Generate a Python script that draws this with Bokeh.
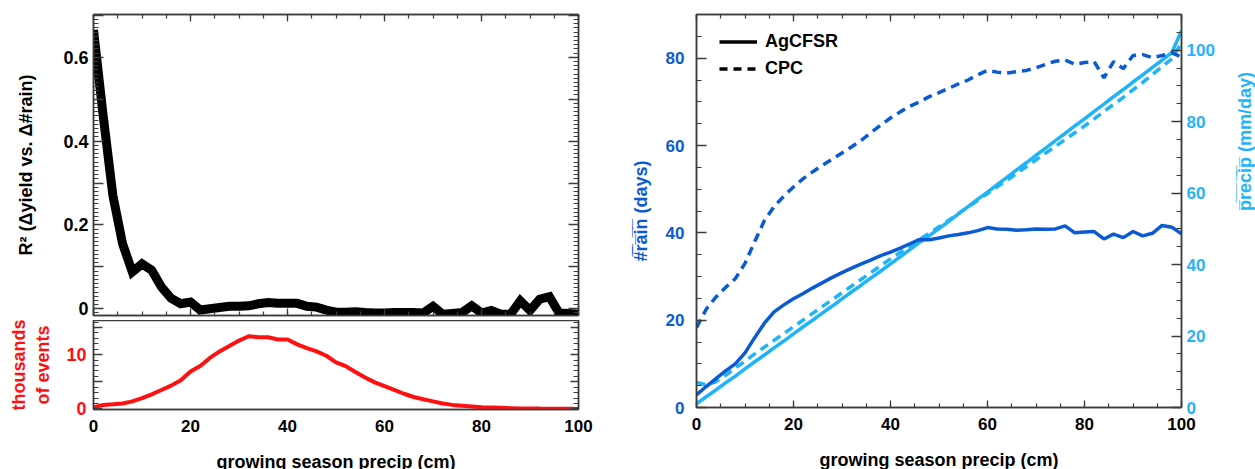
import math
from bokeh.plotting import figure
from bokeh.models import (Range1d, LinearAxis, SingleIntervalTicker, FixedTicker,
                          CustomJSTickFormatter, Legend, LegendItem)
from bokeh.layouts import row, column
from bokeh.embed import file_html
from bokeh.resources import INLINE

# ---------------- data ----------------
precip_cm = [0, 2, 4, 6, 8, 10, 12, 14, 16, 18, 20, 22, 24, 26, 28, 30, 32, 34, 36, 38,
             40, 42, 44, 46, 48, 50, 52, 54, 56, 58, 60, 62, 64, 66, 68, 70, 72, 74, 76, 78,
             80, 82, 84, 86, 88, 90, 92, 94, 96, 98, 100]

r2_yield_rain = [0.665, 0.46, 0.27, 0.155, 0.088, 0.107, 0.092, 0.052, 0.025, 0.012,
                 0.016, -0.003, 0.0, 0.003, 0.006, 0.006, 0.007, 0.012, 0.015, 0.013,
                 0.013, 0.013, 0.006, 0.004, -0.003, -0.008, -0.008, -0.007, -0.009, -0.01,
                 -0.01, -0.009, -0.009, -0.009, -0.01, 0.006, -0.013, -0.011, -0.009, 0.007,
                 -0.01, -0.004, -0.013, -0.013, 0.019, -0.004, 0.023, 0.029, -0.01, -0.011,
                 -0.013]

events_thousands = [0.3, 0.75, 0.85, 1.0, 1.4, 2.0, 2.7, 3.5, 4.3, 5.3,
                    6.9, 7.9, 9.4, 10.6, 11.6, 12.6, 13.4, 13.2, 13.2, 12.8,
                    12.8, 11.9, 11.2, 10.6, 9.8, 8.6, 7.9, 6.8, 5.8, 4.9,
                    4.2, 3.5, 2.8, 2.2, 1.8, 1.4, 1.0, 0.75, 0.6, 0.45,
                    0.3, 0.25, 0.2, 0.15, 0.1, 0.1, 0.07, 0.05, 0.05, 0.03,
                    0.0]

rain_days_agcfsr = [2.9, 4.8, 6.6, 8.4, 10.0, 12.5, 16.0, 19.3, 21.9, 23.5,
                    24.9, 26.1, 27.4, 28.6, 29.8, 30.9, 31.9, 32.9, 33.8, 34.8,
                    35.6, 36.5, 37.5, 38.5, 38.4, 38.8, 39.3, 39.6, 40.0, 40.5,
                    41.2, 40.9, 40.8, 40.6, 40.7, 40.9, 40.8, 40.9, 41.6, 40.0,
                    40.2, 40.3, 38.6, 39.7, 38.9, 40.3, 39.3, 39.9, 41.7, 41.3,
                    39.8]

rain_days_cpc = [18.3, 22.5, 25.3, 27.5, 29.5, 33.0, 38.0, 42.8, 46.0, 48.4,
                 50.5, 52.4, 54.0, 55.5, 56.9, 58.3, 59.7, 61.2, 63.0, 64.7,
                 66.3, 67.7, 69.0, 70.0, 71.2, 72.1, 73.1, 74.1, 75.0, 76.2,
                 77.2, 76.8, 76.6, 76.9, 77.2, 77.8, 78.6, 79.3, 79.6, 78.6,
                 79.0, 79.2, 75.5, 79.2, 77.6, 80.6, 80.8, 80.1, 80.6, 81.2,
                 80.3]

precip_agcfsr = [1.0, 3.0, 4.9, 6.9, 8.8, 10.8, 12.8, 14.7, 16.7, 18.6,
                 20.6, 22.6, 24.5, 26.5, 28.4, 30.4, 32.4, 34.3, 36.3, 38.2,
                 40.2, 42.2, 44.2, 46.2, 48.1, 50.1, 52.1, 54.2, 56.2, 58.3,
                 60.3, 62.4, 64.4, 66.5, 68.5, 70.6, 72.6, 74.7, 76.7, 78.8,
                 80.8, 82.9, 84.9, 87.0, 89.0, 91.1, 93.1, 95.2, 97.2, 99.3,
                 105.5]

precip_cpc = [7.0, 6.4, 7.2, 9.0, 11.0, 13.0, 15.0, 16.9, 18.8, 20.7,
              22.6, 24.5, 26.4, 28.3, 30.2, 32.1, 34.0, 35.9, 37.8, 39.7,
              41.6, 43.4, 45.2, 47.0, 48.8, 50.6, 52.4, 54.3, 56.1, 58.0,
              59.9, 61.8, 63.6, 65.5, 67.4, 69.3, 71.2, 73.1, 75.0, 76.9,
              78.8, 80.8, 82.9, 84.8, 86.8, 88.9, 91.0, 93.2, 95.4, 97.6,
              102.0]

series_names = ["AgCFSR", "CPC"]
x_title = "growing season precip (cm)"

# ---------------- style ----------------
FONT = "Liberation Sans"
AXC = "#3c3c3c"
DARK = "#0a5bd3"
LIGHT = "#1fb4fa"
RED = "#ff1010"


def style_axis(ax, color="black", size="17px", standoff=8):
    ax.major_label_text_font = FONT
    ax.major_label_text_font_style = "bold"
    ax.major_label_text_font_size = size
    ax.major_label_text_color = color
    ax.major_label_standoff = standoff
    ax.axis_label_text_font = FONT
    ax.axis_label_text_font_style = "bold"
    ax.axis_label_text_font_size = "18px"
    ax.axis_label_text_color = color
    ax.axis_line_color = AXC
    ax.axis_line_width = 1.5
    ax.major_tick_in = 10
    ax.major_tick_out = 0
    ax.minor_tick_in = 5
    ax.minor_tick_out = 0
    ax.major_tick_line_color = AXC
    ax.minor_tick_line_color = AXC
    ax.major_tick_line_width = 1.3
    ax.minor_tick_line_width = 1.2


def mirror_axis(ax):
    style_axis(ax)
    ax.formatter = CustomJSTickFormatter(code="return ''")
    ax.major_label_text_font_size = "0px"
    ax.major_label_standoff = 0
    ax.axis_label = None


def base_fig(w, h, xr, yr, l, r, t, b):
    p = figure(width=w, height=h, x_range=xr, y_range=yr,
               min_border_left=l, min_border_right=r, min_border_top=t, min_border_bottom=b,
               output_backend="svg", toolbar_location=None,
               x_axis_location=None, y_axis_location=None)
    p.xgrid.visible = False
    p.ygrid.visible = False
    p.outline_line_color = AXC
    p.outline_line_width = 1.5
    p.background_fill_color = "white"
    p.border_fill_color = "white"
    return p


x_range = Range1d(0, 100)

# ---------------- top-left: R^2 ----------------
p1 = base_fig(608, 320, x_range, Range1d(-0.016, 0.702), 93, 30, 14, 5)
p1.line(precip_cm, r2_yield_rain, line_color="black", line_width=9, line_join="miter")

y1_ticker = FixedTicker(ticks=[0, 0.1, 0.2, 0.3, 0.4, 0.5, 0.6, 0.7],
                        minor_ticks=[i / 100 for i in range(-1, 71)])
y1_fmt = CustomJSTickFormatter(code="""
const v = Math.round(tick*10);
if (v % 2 != 0) return '';
if (v == 0) return '0';
return (v/10).toFixed(1);""")
ax = LinearAxis(ticker=y1_ticker, formatter=y1_fmt, axis_label="R² (Δyield vs. Δ#rain)")
style_axis(ax, size="18px", standoff=5)
ax.axis_label_standoff = 24
p1.add_layout(ax, "left")
ax = LinearAxis(ticker=y1_ticker)
mirror_axis(ax)
p1.add_layout(ax, "right")
for side in ("above", "below"):
    ax = LinearAxis(ticker=SingleIntervalTicker(interval=20, num_minor_ticks=4))
    mirror_axis(ax)
    ax.major_tick_in = 7
    ax.minor_tick_in = 4
    p1.add_layout(ax, side)

# ---------------- bottom-left: events ----------------
p2 = base_fig(608, 155, x_range, Range1d(-0.1, 16.3), 93, 30, 0, 66)
p2.line(precip_cm, events_thousands, line_color=RED, line_width=4)
y2_ticker = FixedTicker(ticks=[0, 5, 10, 15], minor_ticks=list(range(0, 17)))
y2_fmt = CustomJSTickFormatter(code="return (tick == 0 || tick == 10) ? String(tick) : '';")
ax = LinearAxis(ticker=y2_ticker, formatter=y2_fmt, axis_label="thousands\nof events")
style_axis(ax, color=RED, size="18px", standoff=7)
ax.major_tick_in = 9
ax.axis_label_standoff = 10
p2.add_layout(ax, "left")
ax = LinearAxis(ticker=y2_ticker)
mirror_axis(ax)
ax.major_tick_in = 8
p2.add_layout(ax, "right")
ax = LinearAxis(ticker=SingleIntervalTicker(interval=20, num_minor_ticks=4), axis_label=x_title)
style_axis(ax, size="17px", standoff=10)
ax.major_tick_in = 0
ax.minor_tick_in = 0
ax.axis_label_standoff = 17
p2.add_layout(ax, "below")

# ---------------- right: #rain and precip ----------------
p3 = base_fig(660, 475, Range1d(0, 100), Range1d(0, 90), 88, 87, 14, 68)
p3.extra_y_ranges = {"precip": Range1d(0, 110)}

p3.line(precip_cm, precip_agcfsr, line_color=LIGHT, line_width=3.5, y_range_name="precip")
p3.line(precip_cm, precip_cpc, line_color=LIGHT, line_width=3.5, line_dash="9 6",
        y_range_name="precip")
p3.line(precip_cm, rain_days_agcfsr, line_color=DARK, line_width=3.5)
p3.line(precip_cm, rain_days_cpc, line_color=DARK, line_width=3.5, line_dash="9 6")

ax = LinearAxis(ticker=SingleIntervalTicker(interval=20, num_minor_ticks=4),
                axis_label="#\u0305r\u0305a\u0305i\u0305n\u0305 (days)")
style_axis(ax, color=DARK, size="17px", standoff=12)
ax.axis_label_standoff = 12
p3.add_layout(ax, "left")

rax = LinearAxis(ticker=SingleIntervalTicker(interval=20, num_minor_ticks=4),
                 y_range_name="precip",
                 axis_label="p\u0305r\u0305e\u0305c\u0305i\u0305p\u0305 (mm/day)")
style_axis(rax, color=LIGHT, size="17px", standoff=5)
rax.axis_label_standoff = 27
if "axis_label_orientation" in rax.properties():
    rax.axis_label_orientation = math.pi / 2
p3.add_layout(rax, "right")

ax = LinearAxis(ticker=SingleIntervalTicker(interval=20, num_minor_ticks=4), axis_label=x_title)
style_axis(ax, size="17px", standoff=10)
ax.major_tick_in = 7
ax.minor_tick_in = 4
ax.axis_label_standoff = 17
p3.add_layout(ax, "below")

ax = LinearAxis(ticker=SingleIntervalTicker(interval=20, num_minor_ticks=4))
mirror_axis(ax)
ax.major_tick_in = 7
ax.minor_tick_in = 4
p3.add_layout(ax, "above")

# legend entries (black line samples, hidden from the plot itself)
leg_solid = p3.line(precip_cm, rain_days_agcfsr, line_color="black", line_width=3.5,
                    visible=False)
leg_dash = p3.line(precip_cm, rain_days_cpc, line_color="black", line_width=3.5,
                   line_dash="8 6", visible=False)
legend = Legend(items=[LegendItem(label=series_names[0], renderers=[leg_solid]),
                       LegendItem(label=series_names[1], renderers=[leg_dash])],
                location=(23, 328), border_line_color=None, background_fill_alpha=0,
                padding=0, margin=0, spacing=6, glyph_width=38, glyph_height=21,
                label_height=21, label_standoff=8, label_text_font=FONT,
                label_text_font_style="bold", label_text_font_size="18px",
                label_text_color="black", inactive_fill_alpha=0, click_policy="none")
p3.add_layout(legend)

layout = row(column(p1, p2), p3)
open("out.html", "w").write(file_html(layout, INLINE))
